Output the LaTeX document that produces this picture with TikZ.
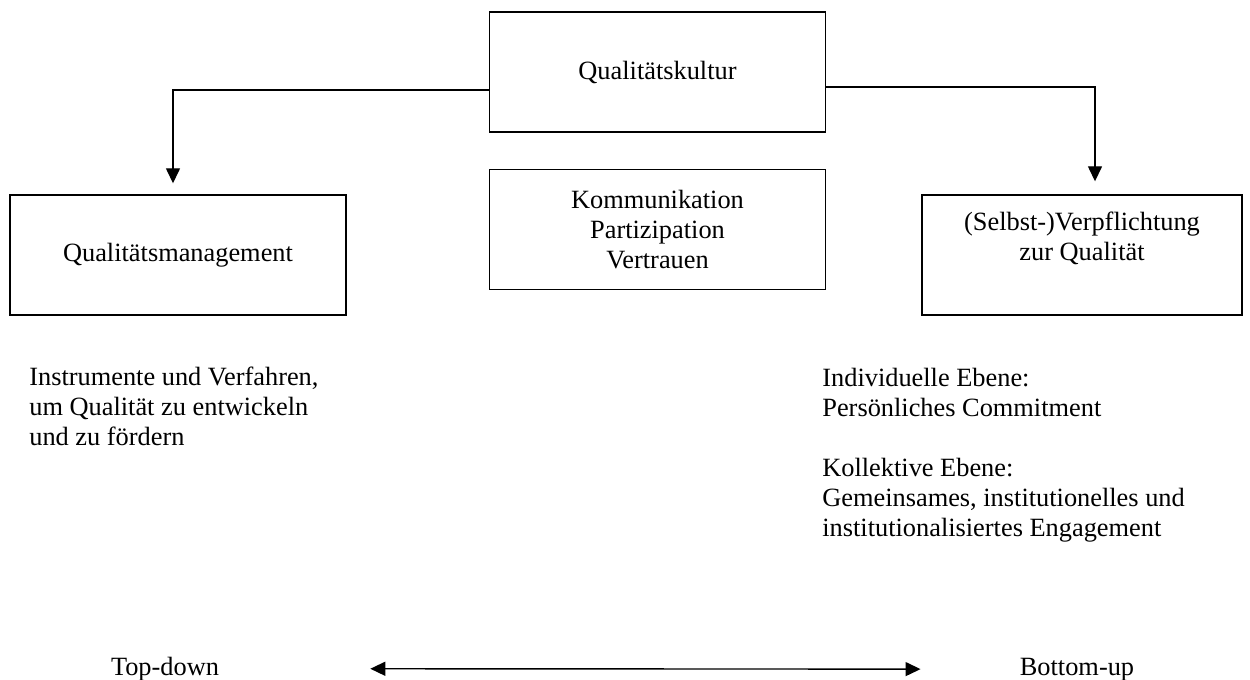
\documentclass[tikz,border=0pt]{standalone}
\usepackage{fontspec}
\setmainfont{Liberation Serif}
\usetikzlibrary{arrows.meta, positioning}
\tikzset{
    font=\fontsize{15}{17}\selectfont,
    >={Triangle[length=0.3cm, width=0.28cm]},
    % Boxes
    box/.style={rectangle, draw, line width=0.8pt,
                minimum width=6.72cm, minimum height=2.4cm, align=center, inner sep=0pt},
    % Free text
    txt/.style={align=left, inner sep=0pt},
    % Flow
    flow/.style={->, line width=0.8pt}
}

\begin{document}
\begin{tikzpicture}
\useasboundingbox (0,0) rectangle (25,-13.6);

\node[box] (kultur) at (13.15,-1.44) {Qualitätskultur};
\node[box, below=0.72cm of kultur] (werte) {Kommunikation\\Partizipation\\Vertrauen};
\node[box] (mgmt) at (3.56,-5.1) {Qualitätsmanagement};
\node[box, minimum width=6.4cm] (pflicht) at (21.64,-5.1) {(Selbst-)Verpflichtung\\zur Qualität\\[4pt]\mbox{}};

\node[txt, anchor=north west] (instr) at (0.58,-7.34)
    {Instrumente und Verfahren,\\um Qualität zu entwickeln\\und zu fördern};
\node[txt, anchor=north west] (ebenen) at (16.44,-7.36)
    {Individuelle Ebene:\\Persönliches Commitment\\[17pt]Kollektive Ebene:\\Gemeinsames, institutionelles und\\institutionalisiertes Engagement};

\node[txt, anchor=base] (topdown) at (3.3,-13.5) {Top-down};
\node[txt, anchor=base] (bottomup) at (21.54,-13.5) {Bottom-up};

\draw[flow] ([yshift=-0.36cm]kultur.west) -| ([xshift=-0.1cm]mgmt.north) [shorten >=0.22cm];
\draw[flow] ([yshift=-0.3cm]kultur.east) -| ([xshift=0.26cm]pflicht.north) [shorten >=0.26cm];
\draw[flow, <->, shorten <=3.02cm, shorten >=1.98cm] (topdown.east) -- (bottomup.west);

\end{tikzpicture}
\end{document}
